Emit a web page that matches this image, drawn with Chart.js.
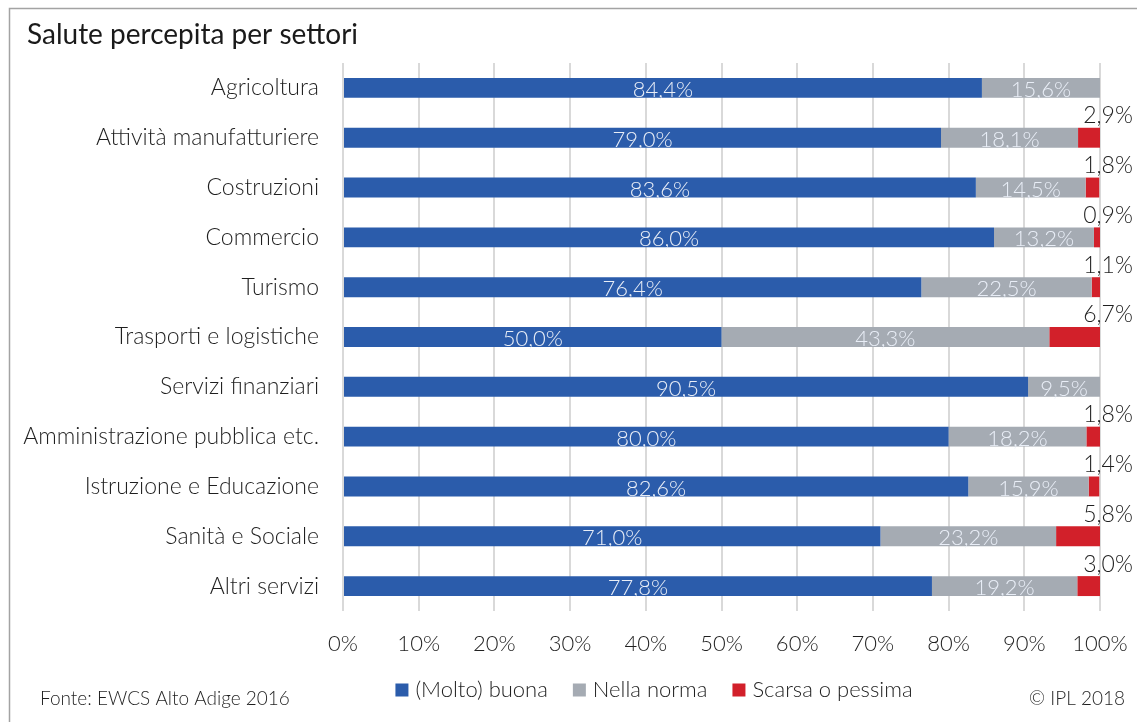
<!DOCTYPE html>
<html lang="it">
<head>
  <meta charset="utf-8" />
  <title>Salute percepita per settori</title>
  <style>
body { margin: 0; background: #fff; }
#myChart { display: block; }
  </style>
</head>
<body>
  <canvas id="myChart" width="1137" height="722"></canvas>
  <script src="https://cdn.jsdelivr.net/npm/chart.js"></script>
  <script>
const sectors = [
  'Agricoltura',
  'Attività manufatturiere',
  'Costruzioni',
  'Commercio',
  'Turismo',
  'Trasporti e logistiche',
  'Servizi finanziari',
  'Amministrazione pubblica etc.',
  'Istruzione e Educazione',
  'Sanità e Sociale',
  'Altri servizi'
];
const buona  = [84.4, 79.0, 83.6, 86.0, 76.4, 50.0, 90.5, 80.0, 82.6, 71.0, 77.8];
const norma  = [15.6, 18.1, 14.5, 13.2, 22.5, 43.3,  9.5, 18.2, 15.9, 23.2, 19.2];
const scarsa = [ 0,    2.9,  1.8,  0.9,  1.1,  6.7,  0,    1.8,  1.4,  5.8,  3.0];
const seriesNames = ['(Molto) buona', 'Nella norma', 'Scarsa o pessima'];
const titleText = 'Salute percepita per settori';
const sourceText = 'Fonte: EWCS Alto Adige 2016';
const copyText = '© IPL 2018';

const FONT = 'Lato, "Noto Sans", sans-serif';

function pct(v) {
  return v.toFixed(1).replace('.', ',') + '%';
}

// etichette dei valori sulle barre
const valueLabels = {
  id: 'valueLabels',
  afterDatasetsDraw(chart) {
    const ctx = chart.ctx;
    const xs = chart.scales.x;
    ctx.save();
    ctx.textAlign = 'center';
    ctx.textBaseline = 'middle';
    chart.data.datasets.forEach((ds, i) => {
      const meta = chart.getDatasetMeta(i);
      meta.data.forEach((bar, j) => {
        const v = ds.data[j];
        if (!v) return;
        if (i < 2) {
          ctx.font = '300 22px ' + FONT;
          ctx.fillStyle = '#e9eef7';
          ctx.fillText(pct(v), (bar.x + bar.base) / 2, bar.y + 2);
        } else {
          ctx.font = '300 23px ' + FONT;
          ctx.fillStyle = '#1f1f1f';
          ctx.fillText(pct(v), xs.getPixelForValue(100) + 8, bar.y - 22);
        }
      });
    });
    ctx.restore();
  }
};

// cornice, titolo, legenda e note
const decorations = {
  id: 'decorations',
  beforeDraw(chart) {
    const ctx = chart.ctx;
    ctx.save();
    ctx.strokeStyle = '#a3a3a3';
    ctx.lineWidth = 1.5;
    ctx.beginPath();
    ctx.moveTo(9.5, chart.height);
    ctx.lineTo(9.5, 8.5);
    ctx.lineTo(chart.width, 8.5);
    ctx.stroke();
    ctx.restore();
  },
  afterDraw(chart) {
    const ctx = chart.ctx;
    ctx.save();
    ctx.textBaseline = 'middle';
    ctx.fillStyle = '#1a1a1a';
    ctx.font = '28px ' + FONT;
    ctx.textAlign = 'left';
    ctx.fillText(titleText, 27, 35);

    ctx.font = '300 19px ' + FONT;
    ctx.fillStyle = '#1f1f1f';
    ctx.fillText(sourceText, 40, 699);
    ctx.textAlign = 'right';
    ctx.fillText(copyText, 1125, 699);

    // legenda
    ctx.font = '300 22px ' + FONT;
    ctx.textAlign = 'left';
    const box = 13, gap = 7, space = 25;
    const widths = chart.data.datasets.map(ds => box + gap + ctx.measureText(ds.label).width);
    const total = widths.reduce((a, b) => a + b, 0) + space * (widths.length - 1);
    let x = 654 - total / 2;
    const y = 690;
    chart.data.datasets.forEach((ds, i) => {
      ctx.fillStyle = ds.backgroundColor;
      ctx.fillRect(x, y - box / 2, box, box);
      ctx.fillStyle = '#1f1f1f';
      ctx.fillText(ds.label, x + box + gap, y);
      x += widths[i] + space;
    });
    ctx.restore();
  }
};

const ctx = document.getElementById('myChart');
new Chart(ctx, {
  type: 'bar',
  data: {
    labels: sectors,
    datasets: [
      { label: seriesNames[0], data: buona,  backgroundColor: '#2b5cab' },
      { label: seriesNames[1], data: norma,  backgroundColor: '#a5abb3' },
      { label: seriesNames[2], data: scarsa, backgroundColor: '#d2202a' }
    ]
  },
  options: {
    indexAxis: 'y',
    responsive: false,
    animation: false,
    layout: { padding: { top: 63, right: 37, bottom: 0, left: 0 } },
    datasets: {
      bar: { categoryPercentage: 1, barPercentage: 0.4, borderWidth: 0 }
    },
    scales: {
      x: {
        stacked: true,
        min: 0,
        max: 100,
        afterFit(axis) {
          axis.height = 111;
          axis.paddingLeft = 0;
          axis.paddingRight = 0;
        },
        ticks: {
          stepSize: 10,
          padding: 20,
          color: '#1f1f1f',
          font: { family: FONT, size: 22, weight: 300 },
          callback: v => v + '%'
        },
        grid: { color: '#d9d9d9', lineWidth: 2, drawTicks: false },
        border: { display: false }
      },
      y: {
        stacked: true,
        afterFit(axis) { axis.width = 343; },
        ticks: {
          padding: 16,
          color: '#1f1f1f',
          font: { family: FONT, size: 23, weight: 300 }
        },
        grid: { display: false },
        border: { display: false }
      }
    },
    plugins: {
      legend: { display: false },
      title: { display: false },
      tooltip: { enabled: false }
    }
  },
  plugins: [valueLabels, decorations]
});
  </script>
</body>
</html>
